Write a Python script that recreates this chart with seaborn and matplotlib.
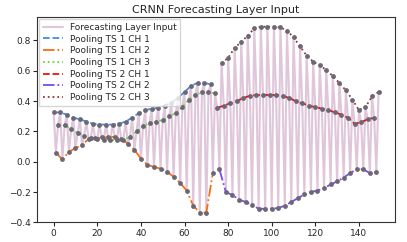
import numpy as np
import matplotlib
matplotlib.use("Agg")
import matplotlib.pyplot as plt
import seaborn as sns

# pooled outputs, 25 steps per channel
ts1_ch1 = [0.325, 0.325, 0.31, 0.29, 0.28, 0.265, 0.25, 0.245, 0.245, 0.245, 0.25, 0.265, 0.29,
           0.32, 0.34, 0.35, 0.355, 0.37, 0.39, 0.42, 0.46, 0.50, 0.52, 0.52, 0.51]
ts1_ch2 = [0.06, 0.015, 0.065, 0.09, 0.11, 0.15, 0.155, 0.16, 0.16, 0.165, 0.15, 0.12, 0.08,
           0.02, -0.02, -0.035, -0.045, -0.065, -0.10, -0.14, -0.19, -0.29, -0.335, -0.335, -0.075]
ts1_ch3 = [0.245, 0.24, 0.215, 0.19, 0.17, 0.155, 0.15, 0.145, 0.145, 0.14, 0.145, 0.165, 0.20,
           0.235, 0.255, 0.265, 0.275, 0.30, 0.32, 0.36, 0.41, 0.44, 0.46, 0.46, 0.45]
ts2_ch1 = [0.355, 0.37, 0.385, 0.40, 0.42, 0.435, 0.44, 0.44, 0.44, 0.44, 0.435, 0.42, 0.40,
           0.385, 0.37, 0.36, 0.35, 0.34, 0.325, 0.31, 0.29, 0.25, 0.26, 0.28, 0.29]
ts2_ch2 = [-0.05, -0.20, -0.22, -0.25, -0.265, -0.285, -0.31, -0.31, -0.31, -0.305, -0.29, -0.265, -0.24,
           -0.215, -0.20, -0.19, -0.175, -0.15, -0.13, -0.105, -0.075, -0.05, -0.05, -0.075, -0.07]
ts2_ch3 = [0.65, 0.685, 0.75, 0.79, 0.83, 0.88, 0.89, 0.89, 0.89, 0.885, 0.865, 0.82, 0.76,
           0.70, 0.66, 0.635, 0.605, 0.565, 0.52, 0.47, 0.41, 0.34, 0.36, 0.43, 0.46]

series = [ts1_ch1, ts1_ch2, ts1_ch3, ts2_ch1, ts2_ch2, ts2_ch3]
labels = ["Pooling TS 1 CH 1", "Pooling TS 1 CH 2", "Pooling TS 1 CH 3",
          "Pooling TS 2 CH 1", "Pooling TS 2 CH 2", "Pooling TS 2 CH 3"]
colors = ["#3d8fe6", "#ff6a10", "#66dd33", "#f01010", "#7b48f5", "#8b3a3a"]
styles = ["--", "-.", ":", "--", "-.", ":"]

# forecasting input = channels interleaved, TS 1 then TS 2
n = len(ts1_ch1)
flat = np.concatenate([np.column_stack(series[0:3]).ravel(), np.column_stack(series[3:6]).ravel()])
x_all = np.arange(len(flat))

sns.set_style("ticks")
plt.rcParams["font.family"] = ["DejaVu Sans"]
fig, ax = plt.subplots(figsize=(4.07, 2.42), dpi=100)
fig.subplots_adjust(left=0.092, right=0.970, top=0.928, bottom=0.081)

sns.lineplot(x=x_all, y=flat, ax=ax, color="#e0c6da", linewidth=1.5, label="Forecasting Layer Input", zorder=1)
for i, (vals, lab, col, ls) in enumerate(zip(series, labels, colors, styles)):
    ts, ch = divmod(i, 3)
    xs = ts * 3 * n + ch + 3 * np.arange(n)
    sns.lineplot(x=xs, y=vals, ax=ax, color=col, linestyle=ls, linewidth=1.3, label=lab, zorder=2)
sns.scatterplot(x=x_all, y=flat, ax=ax, color="#6b6775", s=12, linewidth=0, zorder=3)

ax.set_title("CRNN Forecasting Layer Input", fontsize=8, pad=3)
ax.tick_params(labelsize=6.5, length=3, width=0.8, pad=2)
ax.set_xticks([0, 20, 40, 60, 80, 100, 120, 140])
ax.set_yticks([-0.4, -0.2, 0.0, 0.2, 0.4, 0.6, 0.8])
for s in ax.spines.values():
    s.set_color("#333333")
    s.set_linewidth(0.8)
ax.legend(loc="upper left", fontsize=6.5, frameon=True, handlelength=2.2, labelspacing=0.3,
          borderpad=0.4, handletextpad=0.8, borderaxespad=0.2, fancybox=False, edgecolor="#cccccc")

fig.savefig("out.png", dpi=100)
